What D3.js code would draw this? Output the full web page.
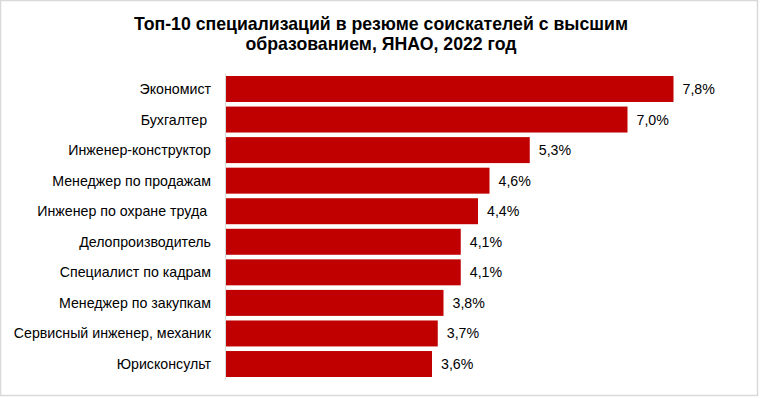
<!DOCTYPE html>
<html>
  <head>
    <meta charset="utf-8">
    <script src="https://cdn.jsdelivr.net/npm/d3@7"></script>
    <style>
      body { margin: 0; background: #fff; }
      text { font-family: "Liberation Sans", Arial, sans-serif; fill: #000; white-space: pre; }
    </style>
  </head>
  <body>
    <div id="chart"></div>
    <script type="text/javascript">
      var categories = ["Экономист", "Бухгалтер ", "Инженер-конструктор", "Менеджер по продажам",
                        "Инженер по охране труда ", "Делопроизводитель", "Специалист по кадрам",
                        "Менеджер по закупкам", "Сервисный инженер, механик", "Юрисконсульт"];
      var shares = [7.8, 7.0, 5.3, 4.6, 4.4, 4.1, 4.1, 3.8, 3.7, 3.6];
      var titleLines = ["Топ-10 специализаций в резюме соискателей с высшим",
                        "образованием, ЯНАО, 2022 год"];

      var width = 760,
          height = 398,
          plotLeft = 225;

      var svg = d3.select("#chart").append("svg")
          .attr("width", width)
          .attr("height", height);

      // chart frame
      svg.append("rect")
          .attr("x", 0.5).attr("y", 0.5)
          .attr("width", 757).attr("height", 395)
          .attr("fill", "#fff")
          .attr("stroke", "#d9d9d9")
          .attr("stroke-width", 1.5);

      svg.selectAll(".title")
          .data(titleLines)
          .enter().append("text")
            .attr("class", "title")
            .attr("x", 381)
            .attr("y", function(d, i) { return 29.5 + i * 20; })
            .attr("text-anchor", "middle")
            .style("font-size", "17.7px")
            .style("font-weight", "bold")
            .text(function(d) { return d; });

      var x = d3.scaleLinear()
          .domain([0, 7.8])
          .range([plotLeft, 673.5]);

      var y = d3.scaleBand()
          .domain(categories)
          .range([73.7, 379.3])
          .paddingInner(0.15)
          .paddingOuter(0.075);

      svg.selectAll(".bar")
          .data(shares)
          .enter().append("rect")
            .attr("class", "bar")
            .attr("x", x(0))
            .attr("y", function(d, i) { return y(categories[i]); })
            .attr("width", function(d) { return x(d) - x(0); })
            .attr("height", y.bandwidth())
            .attr("fill", "#c00000");

      // category axis line
      svg.append("line")
          .attr("x1", x(0) + 0.5).attr("x2", x(0) + 0.5)
          .attr("y1", y.range()[0]).attr("y2", y.range()[1])
          .attr("stroke", "#d9d9d9")
          .attr("stroke-width", 1);

      svg.selectAll(".cat")
          .data(categories)
          .enter().append("text")
            .attr("class", "cat")
            .attr("x", 211)
            .attr("y", function(d) { return y(d) + y.bandwidth() / 2; })
            .attr("dy", "0.35em")
            .attr("text-anchor", "end")
            .style("font-size", "14.2px")
            .text(function(d) { return d; });

      svg.selectAll(".val")
          .data(shares)
          .enter().append("text")
            .attr("class", "val")
            .attr("x", function(d) { return x(d) + 9; })
            .attr("y", function(d, i) { return y(categories[i]) + y.bandwidth() / 2; })
            .attr("dy", "0.35em")
            .style("font-size", "14.2px")
            .text(function(d) { return d3.format(".1f")(d).replace(".", ",") + "%"; });
    </script>
  </body>
</html>
